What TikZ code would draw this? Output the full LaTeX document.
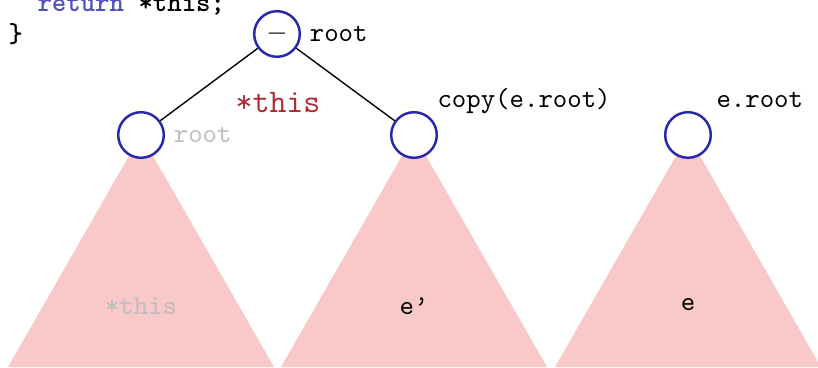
\documentclass[tikz,border=0pt]{standalone}
\usepackage{tikz}
\usetikzlibrary{shapes}
\usetikzlibrary{positioning}

\definecolor{nodeblue}{RGB}{40,40,170}
\definecolor{treepink}{RGB}{249,200,201}
\definecolor{thisred}{RGB}{176,40,50}
\definecolor{codeblue}{RGB}{80,80,190}
\definecolor{fadegray}{RGB}{190,190,190}

\begin{document}
\begin{tikzpicture}[x=0.364pt, y=-0.364pt,
        treenode/.style={circle, draw=nodeblue, fill=white, line width=0.9pt, minimum size=16.6pt, inner sep=0pt},
        subtree/.style={fill=treepink},
        code/.style={font=\ttfamily\bfseries, inner sep=0pt, anchor=base west}]
        \useasboundingbox (0,0) rectangle (818,367);

        % code lines, cut at the top
        \node [code] (ret) at (37,11) {\textcolor{codeblue}{return} *this;};
        \node [code] (brace) at (8,42) {\}};

        % where the circles sit
        \coordinate (rpos) at (277,34);
        \coordinate (lpos) at (141,135);
        \coordinate (mpos) at (414,135);
        \coordinate (epos) at (688,135);

        % subtrees
        \fill [subtree] (lpos) -- ++(-133,232) -- ++(266,0) -- cycle;
        \fill [subtree] (mpos) -- ++(-133,232) -- ++(266,0) -- cycle;
        \fill [subtree] (epos) -- ++(-133,232) -- ++(266,0) -- cycle;

        \node [treenode] (root) at (rpos) {$-$};
        \node [treenode] (lchild) at (lpos) {};
        \node [treenode] (mchild) at (mpos) {};
        \node [treenode] (eroot) at (epos) {};
        \draw [black, line width=0.5pt] (root) -- (lchild);
        \draw [black, line width=0.5pt] (root) -- (mchild);

        \node [right=3pt of root, inner sep=0pt, font=\ttfamily] (rootlbl) {root};
        \node [right=3pt of lchild, inner sep=0pt, font=\ttfamily, text=fadegray] (oldlbl) {root};
        \node [anchor=base west, inner sep=0pt, font=\ttfamily] (copylbl) at (437,107) {copy(e.root)};
        \node [anchor=base west, inner sep=0pt, font=\ttfamily] (elbl) at (716,107) {e.root};
        \node [anchor=base west, inner sep=0pt, font=\large\ttfamily, text=thisred] (thislbl) at (235,112) {*this};

        \node [font=\ttfamily, text=fadegray] (ltext) at (141,306) {*this};
        \node [font=\ttfamily] (mtext) at (414,306) {e\textquoteright};
        \node [font=\ttfamily] (etext) at (688,305) {e};
\end{tikzpicture}
\end{document}
